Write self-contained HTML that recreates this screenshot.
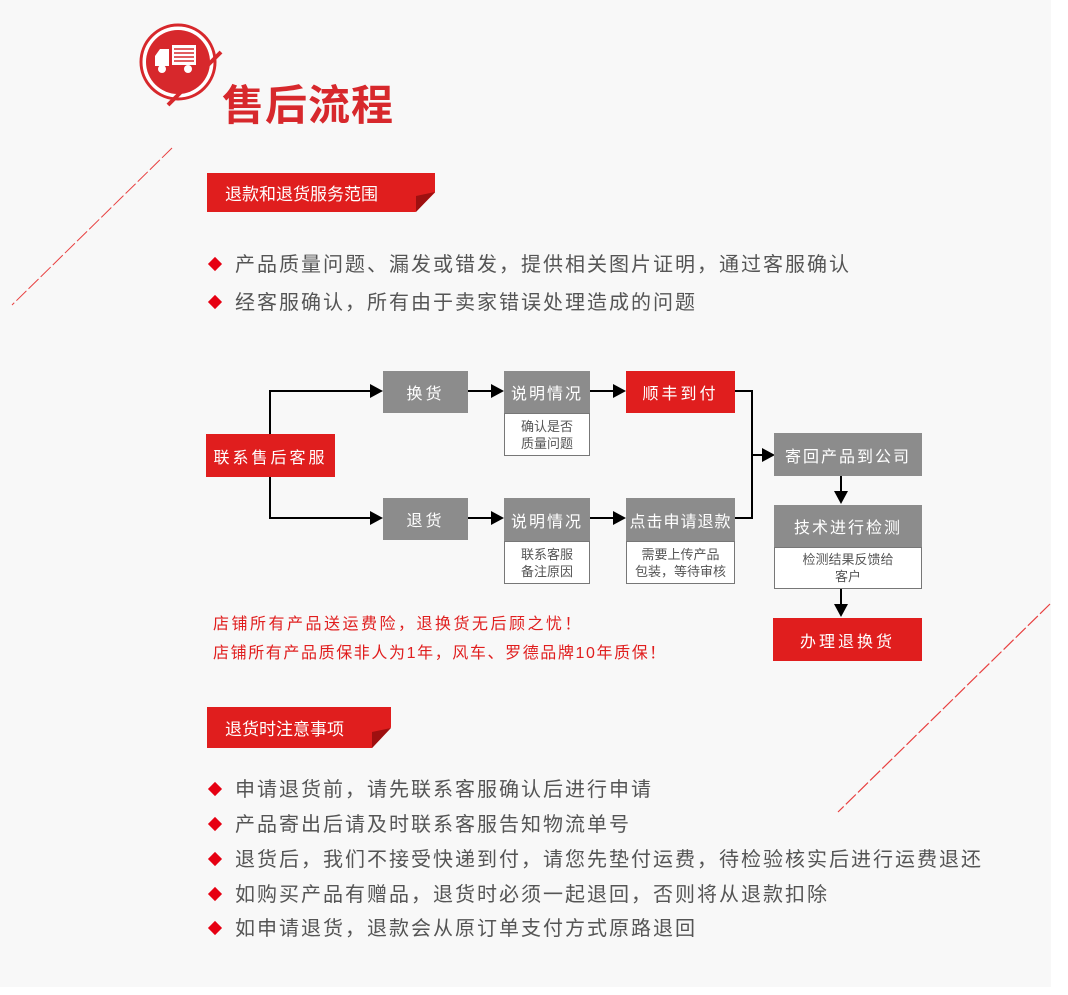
<!DOCTYPE html>
<html><head><meta charset="utf-8">
<style>
body{margin:0;width:1068px;height:995px;background:#fff;position:relative;overflow:hidden;font-family:"Liberation Sans","Noto Sans CJK SC",sans-serif}
.bg{position:absolute;left:0;top:0;width:1051px;height:987px;background:#f8f8f8}
.a{position:absolute}
.box{position:absolute;display:flex;align-items:center;justify-content:center;color:#fff;font-size:16px;letter-spacing:3px;white-space:nowrap}
.g{background:#8c8c8c}
.r{background:#e01e1e}
.sub{position:absolute;border:1px solid #777;background:#fff;color:#555;font-size:13px;line-height:17px;text-align:center;box-sizing:border-box;display:flex;align-items:center;justify-content:center}
.li{position:absolute;left:209px;font-size:20px;letter-spacing:2px;color:#555;white-space:nowrap}
.li b{display:inline-block;width:10px;height:10px;background:#e60012;transform:rotate(45deg);margin:0 15px 3px 1px;vertical-align:middle}
.red{position:absolute;left:213px;font-size:16px;letter-spacing:2.5px;color:#e01e1e;white-space:nowrap}
.ban{position:absolute;background:#e01e1e;color:#fff;font-size:17px;padding-left:18px;box-sizing:border-box;display:flex;align-items:center}
</style></head><body>
<div class="bg"></div>
<svg class="a" style="left:0;top:0" width="1068" height="995">
<circle cx="178" cy="62" r="37" fill="#fff" stroke="#d7282c" stroke-width="3"/>
<circle cx="178" cy="62" r="32" fill="#d7282c"/>
<rect x="172" y="45" width="24" height="20" fill="#fff"/>
<g stroke="#d7282c" stroke-width="1.5"><line x1="174" y1="49" x2="194" y2="49"/><line x1="174" y1="53" x2="194" y2="53"/><line x1="174" y1="57" x2="194" y2="57"/><line x1="174" y1="61" x2="194" y2="61"/></g>
<path d="M155 66 L155 56 L160 49 L169 49 L169 66 Z" fill="#fff"/>
<circle cx="162" cy="69" r="4" fill="#fff"/>
<circle cx="188" cy="69" r="4" fill="#fff"/>
<line x1="221" y1="52" x2="168" y2="105" stroke="#d7282c" stroke-width="4"/>
<line x1="172" y1="148" x2="12" y2="305" stroke="#e84040" stroke-width="1" stroke-dasharray="14,3"/>
<line x1="1050" y1="604" x2="838" y2="812" stroke="#e84040" stroke-width="1.2" stroke-dasharray="14,3"/>
<g stroke="#000" stroke-width="2" fill="none">
<polyline points="270,434 270,391 370,391"/>
<polyline points="270,477 270,518 370,518"/>
<line x1="468" y1="391" x2="492" y2="391"/><line x1="468" y1="518" x2="492" y2="518"/>
<line x1="590" y1="391" x2="614" y2="391"/><line x1="590" y1="518" x2="614" y2="518"/>
<polyline points="735,391 752,391 752,518 735,518"/>
<line x1="752" y1="455" x2="762" y2="455"/>
<line x1="841" y1="476" x2="841" y2="492"/><line x1="841" y1="589" x2="841" y2="605"/>
</g>
<g fill="#000">
<path d="M383,391 l-13,-7 v14z"/><path d="M383,518 l-13,-7 v14z"/>
<path d="M504,391 l-13,-7 v14z"/><path d="M504,518 l-13,-7 v14z"/>
<path d="M626,391 l-13,-7 v14z"/><path d="M626,518 l-13,-7 v14z"/>
<path d="M775,455 l-13,-7 v14z"/>
<path d="M841,504 l-7,-13 h14z"/><path d="M841,617 l-7,-13 h14z"/>
</g>
</svg>
<div class="a" style="left:222px;top:72px;font-size:42px;font-weight:bold;color:#d7282c;letter-spacing:1px">售后流程</div>
<div class="ban" style="left:207px;top:173px;width:228px;height:39px;clip-path:polygon(0 0,100% 0,100% 50%,91.5% 100%,0 100%)">退款和退货服务范围</div>
<svg class="a" style="left:414px;top:190px" width="22" height="23"><path d="M2,22 L21,2 L2,6Z" fill="#9e1010"/></svg>
<div class="li" style="top:248px"><b></b>产品质量问题、漏发或错发，提供相关图片证明，通过客服确认</div>
<div class="li" style="top:286px"><b></b>经客服确认，所有由于卖家错误处理造成的问题</div>

<div class="box r" style="left:206px;top:434px;width:129px;height:43px">联系售后客服</div>
<div class="box g" style="left:383px;top:371px;width:85px;height:42px">换货</div>
<div class="box g" style="left:383px;top:498px;width:85px;height:42px">退货</div>
<div class="box g" style="left:504px;top:371px;width:86px;height:42px;letter-spacing:2px">说明情况</div>
<div class="sub" style="left:504px;top:413px;width:86px;height:43px">确认是否<br>质量问题</div>
<div class="box g" style="left:504px;top:498px;width:86px;height:43px;letter-spacing:2px">说明情况</div>
<div class="sub" style="left:504px;top:541px;width:86px;height:43px">联系客服<br>备注原因</div>
<div class="box r" style="left:626px;top:371px;width:109px;height:42px">顺丰到付</div>
<div class="box g" style="left:626px;top:498px;width:109px;height:43px;letter-spacing:1px">点击申请退款</div>
<div class="sub" style="left:626px;top:541px;width:109px;height:43px">需要上传产品<br>包装，等待审核</div>
<div class="box g" style="left:774px;top:433px;width:148px;height:43px;letter-spacing:2px">寄回产品到公司</div>
<div class="box g" style="left:774px;top:505px;width:148px;height:42px;letter-spacing:2px">技术进行检测</div>
<div class="sub" style="left:774px;top:547px;width:148px;height:42px">检测结果反馈给<br>客户</div>
<div class="box r" style="left:773px;top:618px;width:149px;height:43px">办理退换货</div>

<div class="red" style="top:610px">店铺所有产品送运费险，退换货无后顾之忧！</div>
<div class="red" style="top:639px;letter-spacing:1.6px">店铺所有产品质保非人为1年，风车、罗德品牌10年质保！</div>

<div class="ban" style="left:207px;top:707px;width:184px;height:41px;clip-path:polygon(0 0,100% 0,100% 50%,89.7% 100%,0 100%)">退货时注意事项</div>
<svg class="a" style="left:370px;top:726px" width="22" height="23"><path d="M2,22 L21,2 L2,6Z" fill="#9e1010"/></svg>
<div class="li" style="top:773px"><b></b>申请退货前，请先联系客服确认后进行申请</div>
<div class="li" style="top:808px"><b></b>产品寄出后请及时联系客服告知物流单号</div>
<div class="li" style="top:843px"><b></b>退货后，我们不接受快递到付，请您先垫付运费，待检验核实后进行运费退还</div>
<div class="li" style="top:878px"><b></b>如购买产品有赠品，退货时必须一起退回，否则将从退款扣除</div>
<div class="li" style="top:912px"><b></b>如申请退货，退款会从原订单支付方式原路退回</div>
</body></html>
